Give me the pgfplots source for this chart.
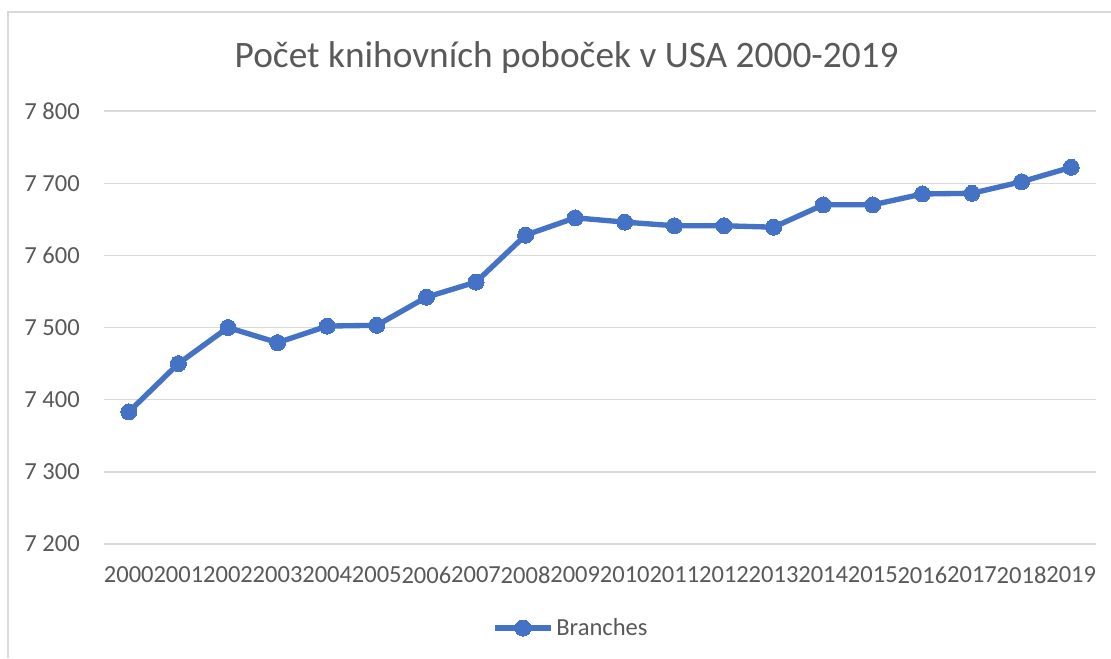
\documentclass[border=0pt]{standalone}
\usepackage{fontspec}
\setmainfont{Carlito}
\usepackage{pgfplots}
\pgfplotsset{compat=1.18}
\definecolor{txt}{HTML}{595959}
\definecolor{grd}{HTML}{D9D9D9}
\definecolor{ser}{HTML}{4472C4}
\begin{document}
\begin{tikzpicture}
\useasboundingbox (0,0) rectangle (833.25pt,493.5pt);
\fill[white] (0,0) rectangle (833.25pt,493.5pt);
\draw[grd, line width=1pt] (6pt,0) -- (6pt,484.5pt) -- (833.25pt,484.5pt);
\node[txt, font=\fontsize{28}{32}\selectfont, anchor=center] at (425pt,450pt) {Počet knihovních poboček v USA 2000-2019};
\begin{axis}[
  at={(78pt,85.5pt)}, anchor=south west,
  scale only axis, width=744pt, height=324.75pt,
  xmin=-0.5, xmax=19.5, ymin=7200, ymax=7800,
  xtick={0,...,19},
  xticklabels={2000,2001,2002,2003,2004,2005,2006,2007,2008,2009,2010,2011,2012,2013,2014,2015,2016,2017,2018,2019},
  ytick={7200,7300,7400,7500,7600,7700,7800},
  yticklabels={7 200,7 300,7 400,7 500,7 600,7 700,7 800},
  ymajorgrids, grid style={grd, line width=1pt},
  axis line style={draw=none},
  major tick length=0pt,
  tick label style={txt, font=\fontsize{18.4}{22}\selectfont},
  yticklabel style={anchor=east, inner sep=0pt, xshift=-18pt},
  xticklabel style={anchor=north, inner sep=0pt, yshift=-17pt},
  legend style={at={(0.471,-0.194)}, anchor=center, draw=none, fill=none, font=\fontsize{18.4}{22}\selectfont, text=txt},
  legend image code/.code={\draw[#1, mark repeat=2, mark phase=2] plot coordinates {(0pt,0pt) (21pt,0pt) (42pt,0pt)};},
]
\addplot[ser, line width=4pt, mark=*, mark size=6pt, mark options={fill=ser, draw=ser, line width=0pt}] coordinates {
(0,7383) (1,7450) (2,7500) (3,7479) (4,7502) (5,7503) (6,7542) (7,7563) (8,7628) (9,7652)
(10,7646) (11,7641) (12,7641) (13,7639) (14,7670) (15,7670) (16,7685) (17,7686) (18,7702) (19,7722)
};
\addlegendentry{Branches}
\end{axis}
\end{tikzpicture}
\end{document}
